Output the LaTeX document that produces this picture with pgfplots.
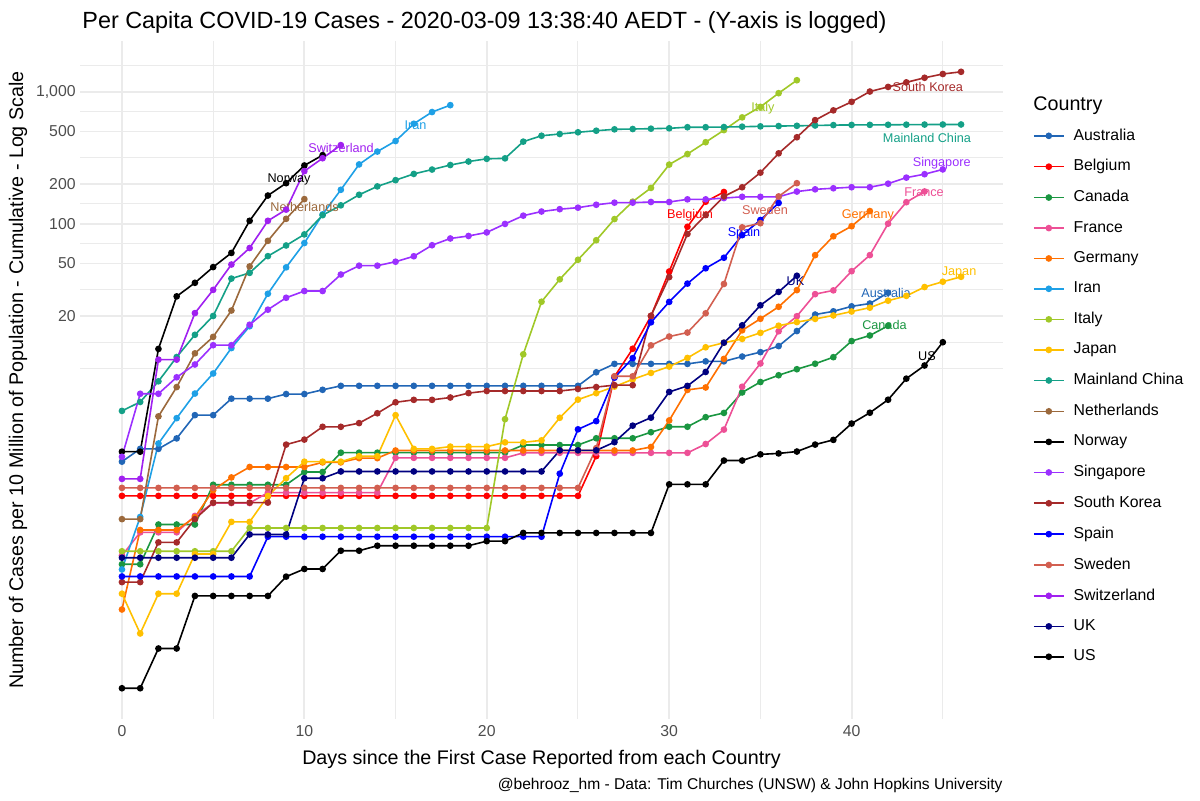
\documentclass[border=0pt]{standalone}
\usepackage{fontspec}
\setmainfont{Liberation Sans}
\usepackage{pgfplots}
\pgfplotsset{compat=1.18}

\definecolor{gridc}{RGB}{235,235,235}
\definecolor{tickc}{RGB}{77,77,77}
\definecolor{cAus}{RGB}{33,102,182}
\definecolor{cBel}{RGB}{255,0,0}
\definecolor{cCan}{RGB}{26,150,65}
\definecolor{cFra}{RGB}{237,80,150}
\definecolor{cGer}{RGB}{255,112,0}
\definecolor{cIra}{RGB}{30,160,230}
\definecolor{cIta}{RGB}{160,200,40}
\definecolor{cJap}{RGB}{255,192,0}
\definecolor{cChi}{RGB}{20,160,135}
\definecolor{cNet}{RGB}{155,105,60}
\definecolor{cNor}{RGB}{0,0,0}
\definecolor{cSin}{RGB}{155,48,255}
\definecolor{cKor}{RGB}{165,42,42}
\definecolor{cSpa}{RGB}{0,0,255}
\definecolor{cSwe}{RGB}{210,95,80}
\definecolor{cSwi}{RGB}{160,32,240}
\definecolor{cUK}{RGB}{0,0,128}
\definecolor{cUS}{RGB}{0,0,0}

\newcommand{\lblfont}{\fontsize{6.33}{7.5}\selectfont}

\begin{document}
\begin{tikzpicture}
\path[use as bounding box] (-40pt,-40.5pt) rectangle (560pt,359.5pt);
\begin{axis}[
  at={(0pt,0pt)}, anchor=south west,
  scale only axis, width=461.5pt, height=339pt,
  xmin=-2.3, xmax=48.3,
  ymode=log, ymin=0.01778, ymax=2421,
  clip=false,
  axis line style={draw=none},
  major tick length=0pt, minor tick length=0pt,
  xtick={0,10,20,30,40}, xticklabels={0,10,20,30,40},
  minor xtick={5,15,25,35,45},
  ytick={20,50,100,200,500,1000}, yticklabels={20,50,100,200,500,{1,000}},
  minor ytick={8,12.65,31.62,70.71,141.4,316.2,707.1,1581},
  grid=both,
  major grid style={color=gridc, line width=0.9pt},
  minor grid style={color=gridc, line width=0.5pt},
  tick label style={font=\fontsize{7.9}{9}\selectfont, text=tickc},
  xticklabel style={inner sep=0pt, anchor=north, yshift=-3pt},
  yticklabel style={inner sep=0pt, anchor=east, xshift=-2pt},
  every axis plot/.append style={line width=0.8pt, mark=*, mark size=1.25pt},
  legend image code/.code={\draw[#1, mark repeat=2, mark phase=2] plot coordinates {(0pt,0pt) (7.5pt,0pt) (15pt,0pt)};},
  legend style={at={(1.0325,0.8767)}, anchor=north west, draw=none, fill=none,
    inner sep=0pt, outer sep=0pt, row sep=4.2pt, column sep=2.5pt,
    font=\fontsize{7.9}{9}\selectfont, cells={anchor=west},
    column 2/.style={nodes={inner sep=0pt, text height=5.7pt, text depth=1.7pt}}},
]
% Australia
\addplot[cAus] coordinates {(0,1.58) (1,1.975) (2,1.975) (3,2.37) (4,3.555) (5,3.555) (6,4.74) (7,4.74) (8,4.74) (9,5.135) (10,5.135) (11,5.53) (12,5.925) (13,5.925) (14,5.925) (15,5.925) (16,5.925) (17,5.925) (18,5.925) (19,5.925) (20,5.925) (21,5.925) (22,5.925) (23,5.925) (24,5.925) (25,5.925) (26,7.505) (27,8.69) (28,8.69) (29,8.69) (30,8.69) (31,8.69) (32,9.085) (33,9.085) (34,9.875) (35,10.665) (36,11.85) (37,15.405) (38,20.54) (39,21.725) (40,23.7) (41,24.885) (42,30.02)};
\addlegendentry{Australia}
% Belgium
\addplot[cBel] coordinates {(0,0.87) (1,0.87) (2,0.87) (3,0.87) (4,0.87) (5,0.87) (6,0.87) (7,0.87) (8,0.87) (9,0.87) (10,0.87) (11,0.87) (12,0.87) (13,0.87) (14,0.87) (15,0.87) (16,0.87) (17,0.87) (18,0.87) (19,0.87) (20,0.87) (21,0.87) (22,0.87) (23,0.87) (24,0.87) (25,0.87) (26,1.74) (27,6.96) (28,11.31) (29,20.01) (30,43.5) (31,94.83) (32,147.0) (33,174.0)};
\addlegendentry{Belgium}
% Canada
\addplot[cCan] coordinates {(0,0.264) (1,0.264) (2,0.528) (3,0.528) (4,0.528) (5,1.056) (6,1.056) (7,1.056) (8,1.056) (9,1.056) (10,1.32) (11,1.32) (12,1.848) (13,1.848) (14,1.848) (15,1.848) (16,1.848) (17,1.848) (18,1.848) (19,1.848) (20,1.848) (21,1.848) (22,2.112) (23,2.112) (24,2.112) (25,2.112) (26,2.376) (27,2.376) (28,2.376) (29,2.64) (30,2.904) (31,2.904) (32,3.432) (33,3.696) (34,5.28) (35,6.336) (36,7.128) (37,7.92) (38,8.712) (39,9.768) (40,12.936) (41,14.256) (42,16.896)};
\addlegendentry{Canada}
% France
\addplot[cFra] coordinates {(0,0.307) (1,0.4605) (2,0.4605) (3,0.4605) (4,0.614) (5,0.7675) (6,0.7675) (7,0.7675) (8,0.921) (9,0.921) (10,0.921) (11,0.921) (12,0.921) (13,0.921) (14,0.921) (15,1.6885) (16,1.6885) (17,1.6885) (18,1.6885) (19,1.6885) (20,1.6885) (21,1.6885) (22,1.842) (23,1.842) (24,1.842) (25,1.842) (26,1.842) (27,1.842) (28,1.842) (29,1.842) (30,1.842) (31,1.842) (32,2.149) (33,2.763) (34,5.833) (35,8.75) (36,15.35) (37,19.96) (38,29.32) (39,31.31) (40,43.75) (41,57.87) (42,100.2) (43,145.7) (44,175.7)};
\addlegendentry{France}
% Germany
\addplot[cGer] coordinates {(0,0.12) (1,0.48) (2,0.48) (3,0.48) (4,0.6) (5,0.96) (6,1.2) (7,1.44) (8,1.44) (9,1.44) (10,1.44) (11,1.56) (12,1.56) (13,1.68) (14,1.68) (15,1.92) (16,1.92) (17,1.92) (18,1.92) (19,1.92) (20,1.92) (21,1.92) (22,1.92) (23,1.92) (24,1.92) (25,1.92) (26,1.92) (27,1.92) (28,1.92) (29,2.04) (30,3.24) (31,5.52) (32,5.76) (33,9.48) (34,15.6) (35,19.08) (36,23.52) (37,31.44) (38,57.84) (39,80.4) (40,95.88) (41,124.8)};
\addlegendentry{Germany}
% Iran
\addplot[cIra] coordinates {(0,0.241) (1,0.6025) (2,2.169) (3,3.374) (4,5.18) (5,7.35) (6,11.45) (7,16.75) (8,29.52) (9,46.75) (10,71.46) (11,117.8) (12,180.9) (13,281.5) (14,352.1) (15,423.3) (16,572.0) (17,701.7) (18,791.2)};
\addlegendentry{Iran}
% Italy
\addplot[cIta] coordinates {(0,0.3314) (1,0.3314) (2,0.3314) (3,0.3314) (4,0.3314) (5,0.3314) (6,0.3314) (7,0.4971) (8,0.4971) (9,0.4971) (10,0.4971) (11,0.4971) (12,0.4971) (13,0.4971) (14,0.4971) (15,0.4971) (16,0.4971) (17,0.4971) (18,0.4971) (19,0.4971) (20,0.4971) (21,3.314) (22,10.27) (23,25.68) (24,37.95) (25,53.36) (26,75.06) (27,108.5) (28,147.1) (29,186.9) (30,280.7) (31,337.4) (32,414.6) (33,511.8) (34,639.3) (35,768.2) (36,974.8) (37,1222)};
\addlegendentry{Italy}
% Japan
\addplot[cJap] coordinates {(0,0.158) (1,0.079) (2,0.158) (3,0.158) (4,0.316) (5,0.316) (6,0.553) (7,0.553) (8,0.869) (9,1.185) (10,1.58) (11,1.58) (12,1.58) (13,1.738) (14,1.738) (15,3.555) (16,1.975) (17,1.975) (18,2.054) (19,2.054) (20,2.054) (21,2.212) (22,2.212) (23,2.291) (24,3.397) (25,4.661) (26,5.214) (27,5.846) (28,6.636) (29,7.426) (30,8.295) (31,9.638) (32,11.61) (33,12.56) (34,13.43) (35,14.93) (36,16.91) (37,18.01) (38,19.04) (39,20.22) (40,21.65) (41,23.15) (42,26.15) (43,28.44) (44,33.18) (45,36.42) (46,39.66)};
\addlegendentry{Japan}
% Mainland China
\addplot[cChi] coordinates {(0,3.829) (1,4.473) (2,6.412) (3,9.793) (4,14.43) (5,20.04) (6,38.46) (7,42.49) (8,56.87) (9,68.48) (10,83.1) (11,116.2) (12,137.9) (13,165.8) (14,191.9) (15,213.9) (16,238.5) (17,257.4) (18,278.5) (19,296.1) (20,310.3) (21,312.9) (22,418.8) (23,464.0) (24,478.4) (25,493.1) (26,506.5) (27,519.0) (28,521.8) (29,525.0) (30,528.3) (31,538.5) (32,538.6) (33,540.1) (34,543.6) (35,546.5) (36,549.5) (37,551.8) (38,554.8) (39,558.8) (40,560.2) (41,561.1) (42,561.9) (43,563.0) (44,564.0) (45,564.6) (46,564.9)};
\addlegendentry{Mainland China}
% Netherlands
\addplot[cNet] coordinates {(0,0.58) (1,0.58) (2,3.48) (3,5.8) (4,10.44) (5,13.92) (6,22.04) (7,47.56) (8,74.24) (9,109.0) (10,153.7)};
\addlegendentry{Netherlands}
% Norway
\addplot[cNor] coordinates {(0,1.88) (1,1.88) (2,11.28) (3,28.2) (4,35.72) (5,47.0) (6,60.16) (7,105.3) (8,163.6) (9,203.0) (10,276.4) (11,330.9)};
\addlegendentry{Norway}
% Singapore
\addplot[cSin] coordinates {(0,1.72) (1,5.16) (2,5.16) (3,6.88) (4,8.6) (5,12.04) (6,12.04) (7,17.2) (8,22.36) (9,27.52) (10,30.96) (11,30.96) (12,41.28) (13,48.16) (14,48.16) (15,51.6) (16,56.76) (17,68.8) (18,77.4) (19,80.84) (20,86.0) (21,99.76) (22,115.2) (23,123.8) (24,129.0) (25,132.4) (26,139.3) (27,144.5) (28,144.5) (29,146.2) (30,146.2) (31,153.1) (32,153.1) (33,156.5) (34,160.0) (35,160.0) (36,160.0) (37,175.4) (38,182.3) (39,185.8) (40,189.2) (41,189.2) (42,201.2) (43,223.6) (44,237.4) (45,258.0)};
\addlegendentry{Singapore}
% South Korea
\addplot[cKor] coordinates {(0,0.1934) (1,0.1934) (2,0.3868) (3,0.3868) (4,0.5802) (5,0.7736) (6,0.7736) (7,0.7736) (8,0.7736) (9,2.127) (10,2.321) (11,2.901) (12,2.901) (13,3.094) (14,3.675) (15,4.448) (16,4.642) (17,4.642) (18,4.835) (19,5.222) (20,5.415) (21,5.415) (22,5.415) (23,5.415) (24,5.415) (25,5.609) (26,5.802) (27,5.995) (28,5.995) (29,20.11) (30,39.45) (31,83.74) (32,116.4) (33,161.1) (34,189.0) (35,243.9) (36,341.5) (37,452.0) (38,609.2) (39,722.5) (40,838.4) (41,1003) (42,1087) (43,1177) (44,1275) (45,1362) (46,1415)};
\addlegendentry{South Korea}
% Spain
\addplot[cSpa] coordinates {(0,0.2135) (1,0.2135) (2,0.2135) (3,0.2135) (4,0.2135) (5,0.2135) (6,0.2135) (7,0.2135) (8,0.427) (9,0.427) (10,0.427) (11,0.427) (12,0.427) (13,0.427) (14,0.427) (15,0.427) (16,0.427) (17,0.427) (18,0.427) (19,0.427) (20,0.427) (21,0.427) (22,0.427) (23,0.427) (24,1.281) (25,2.776) (26,3.203) (27,6.832) (28,9.608) (29,17.93) (30,25.62) (31,35.23) (32,46.0) (33,55.3) (34,82.0) (35,106.8) (36,143.7)};
\addlegendentry{Spain}
% Sweden
\addplot[cSwe] coordinates {(0,1) (1,1) (2,1) (3,1) (4,1) (5,1) (6,1) (7,1) (8,1) (9,1) (10,1) (11,1) (12,1) (13,1) (14,1) (15,1) (16,1) (17,1) (18,1) (19,1) (20,1) (21,1) (22,1) (23,1) (24,1) (25,1) (26,2) (27,7) (28,7) (29,12) (30,14) (31,15) (32,21) (33,35) (34,94) (35,101) (36,161) (37,203)};
\addlegendentry{Sweden}
% Switzerland
\addplot[cSwi] coordinates {(0,1.17) (1,1.17) (2,9.36) (3,9.36) (4,21.06) (5,31.59) (6,49.14) (7,65.52) (8,105.3) (9,128.0) (10,250.4) (11,313.6) (12,394.3)};
\addlegendentry{Switzerland}
% UK
\addplot[cUK] coordinates {(0,0.296) (1,0.296) (2,0.296) (3,0.296) (4,0.296) (5,0.296) (6,0.296) (7,0.444) (8,0.444) (9,0.444) (10,1.184) (11,1.184) (12,1.332) (13,1.332) (14,1.332) (15,1.332) (16,1.332) (17,1.332) (18,1.332) (19,1.332) (20,1.332) (21,1.332) (22,1.332) (23,1.332) (24,1.924) (25,1.924) (26,1.924) (27,2.22) (28,2.96) (29,3.404) (30,5.328) (31,5.92) (32,7.548) (33,12.58) (34,17.02) (35,24.12) (36,30.49) (37,40.4)};
\addlegendentry{UK}
% US
\addplot[cUS] coordinates {(0,0.0304) (1,0.0304) (2,0.0608) (3,0.0608) (4,0.152) (5,0.152) (6,0.152) (7,0.152) (8,0.152) (9,0.2128) (10,0.2432) (11,0.2432) (12,0.3344) (13,0.3344) (14,0.3648) (15,0.3648) (16,0.3648) (17,0.3648) (18,0.3648) (19,0.3648) (20,0.3952) (21,0.3952) (22,0.456) (23,0.456) (24,0.456) (25,0.456) (26,0.456) (27,0.456) (28,0.456) (29,0.456) (30,1.064) (31,1.064) (32,1.064) (33,1.611) (34,1.611) (35,1.794) (36,1.824) (37,1.885) (38,2.128) (39,2.31) (40,3.07) (41,3.709) (42,4.651) (43,6.718) (44,8.451) (45,12.68)};
\addlegendentry{US}

% country names next to the curves
\node[font=\lblfont, text=cSwi, inner sep=0pt] at (axis cs:12.01,374.6) {Switzerland};
\node[font=\lblfont, text=cNor, inner sep=0pt] at (axis cs:9.16,215.4) {Norway};
\node[font=\lblfont, text=cNet, inner sep=0pt] at (axis cs:10.01,133.8) {Netherlands};
\node[font=\lblfont, text=cIra, inner sep=0pt] at (axis cs:16.09,562.3) {Iran};
\node[font=\lblfont, text=cIta, inner sep=0pt] at (axis cs:35.14,752.4) {Italy};
\node[font=\lblfont, text=cKor, inner sep=0pt] at (axis cs:44.18,1085) {South Korea};
\node[font=\lblfont, text=cChi, inner sep=0pt] at (axis cs:44.13,445.9) {Mainland China};
\node[font=\lblfont, text=cSin, inner sep=0pt] at (axis cs:44.94,288.3) {Singapore};
\node[font=\lblfont, text=cFra, inner sep=0pt] at (axis cs:43.97,172.7) {France};
\node[font=\lblfont, text=cBel, inner sep=0pt] at (axis cs:31.14,117.0) {Belgium};
\node[font=\lblfont, text=cSwe, inner sep=0pt] at (axis cs:35.25,127.7) {Sweden};
\node[font=\lblfont, text=cGer, inner sep=0pt] at (axis cs:40.89,115.6) {Germany};
\node[font=\lblfont, text=cSpa, inner sep=0pt] at (axis cs:34.10,85.0) {Spain};
\node[font=\lblfont, text=cJap, inner sep=0pt] at (axis cs:45.89,43.06) {Japan};
\node[font=\lblfont, text=cUK, inner sep=0pt] at (axis cs:36.92,36.55) {UK};
\node[font=\lblfont, text=cAus, inner sep=0pt] at (axis cs:41.89,29.85) {Australia};
\node[font=\lblfont, text=cCan, inner sep=0pt] at (axis cs:41.80,17.17) {Canada};
\node[font=\lblfont, text=cUS, inner sep=0pt] at (axis cs:44.13,10.0) {US};
\end{axis}

% titles and captions
\node[anchor=base west, inner sep=0pt, font=\fontsize{11.7}{14}\selectfont] at (1pt,345pt)
  {Per Capita COVID-19 Cases - 2020-03-09 13:38:40 AEDT - (Y-axis is logged)};
\node[anchor=base, inner sep=0pt, font=\fontsize{9.85}{12}\selectfont] at (230.75pt,-22.5pt)
  {Days since the First Case Reported from each Country};
\node[anchor=base east, inner sep=0pt, font=\fontsize{7.8}{9}\selectfont] at (461.5pt,-35pt)
  {@behrooz\_hm - Data: Tim Churches (UNSW) \& John Hopkins University};
\node[rotate=90, inner sep=0pt, font=\fontsize{9.85}{12}\selectfont] at (-31pt,169.5pt)
  {Number of Cases per 10 Million of Population - Cumulative - Log Scale};
\node[anchor=base west, inner sep=0pt, font=\fontsize{9.85}{12}\selectfont] at (476.5pt,304.5pt) {Country};
\end{tikzpicture}
\end{document}
